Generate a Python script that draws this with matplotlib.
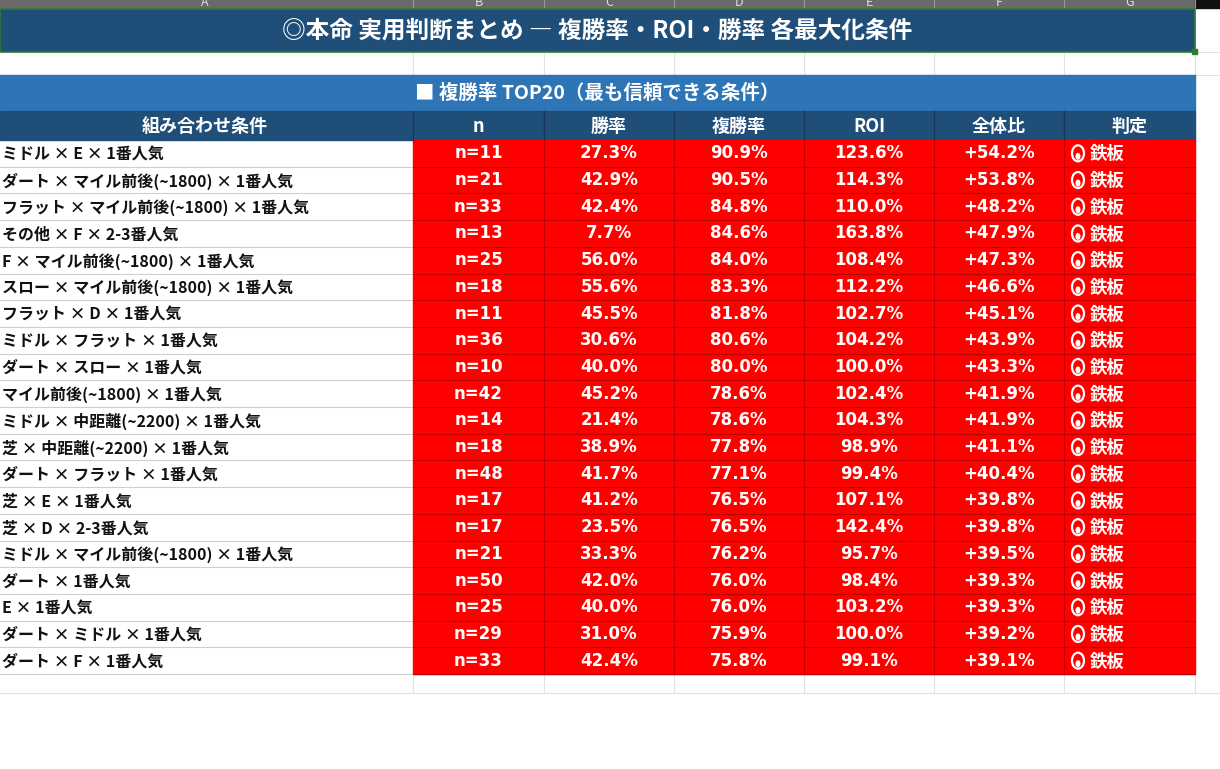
import matplotlib.pyplot as plt
from matplotlib.patches import Rectangle, Ellipse

plt.rcParams['font.family'] = ['Noto Sans CJK JP', 'DejaVu Sans']

title = "◎本命 実用判断まとめ ― 複勝率・ROI・勝率 各最大化条件"
section = "■ 複勝率 TOP20（最も信頼できる条件）"
headers = ["組み合わせ条件", "n", "勝率", "複勝率", "ROI", "全体比", "判定"]
col_letters = ["A", "B", "C", "D", "E", "F", "G"]

conditions = [
    "ミドル × E × 1番人気", "ダート × マイル前後(~1800) × 1番人気",
    "フラット × マイル前後(~1800) × 1番人気", "その他 × F × 2-3番人気",
    "F × マイル前後(~1800) × 1番人気", "スロー × マイル前後(~1800) × 1番人気",
    "フラット × D × 1番人気", "ミドル × フラット × 1番人気",
    "ダート × スロー × 1番人気", "マイル前後(~1800) × 1番人気",
    "ミドル × 中距離(~2200) × 1番人気", "芝 × 中距離(~2200) × 1番人気",
    "ダート × フラット × 1番人気", "芝 × E × 1番人気", "芝 × D × 2-3番人気",
    "ミドル × マイル前後(~1800) × 1番人気", "ダート × 1番人気", "E × 1番人気",
    "ダート × ミドル × 1番人気", "ダート × F × 1番人気",
]
n_vals = [11, 21, 33, 13, 25, 18, 11, 36, 10, 42, 14, 18, 48, 17, 17, 21, 50, 25, 29, 33]
win = [27.3, 42.9, 42.4, 7.7, 56.0, 55.6, 45.5, 30.6, 40.0, 45.2, 21.4, 38.9, 41.7, 41.2, 23.5, 33.3, 42.0, 40.0, 31.0, 42.4]
place = [90.9, 90.5, 84.8, 84.6, 84.0, 83.3, 81.8, 80.6, 80.0, 78.6, 78.6, 77.8, 77.1, 76.5, 76.5, 76.2, 76.0, 76.0, 75.9, 75.8]
roi = [123.6, 114.3, 110.0, 163.8, 108.4, 112.2, 102.7, 104.2, 100.0, 102.4, 104.3, 98.9, 99.4, 107.1, 142.4, 95.7, 98.4, 103.2, 100.0, 99.1]
ratio = [54.2, 53.8, 48.2, 47.9, 47.3, 46.6, 45.1, 43.9, 43.3, 41.9, 41.9, 41.1, 40.4, 39.8, 39.8, 39.5, 39.3, 39.3, 39.2, 39.1]
verdict = ["鉄板"] * 20

cols = [-80, 413, 544, 674, 804, 934, 1064, 1195]
W, H = 1220, 769
dark = "#1f4e79"
mid = "#2e75b6"
red = "#ff0000"

fig = plt.figure(figsize=(W / 100, H / 100), dpi=100)
ax = fig.add_axes([0, 0, 1, 1])
ax.set_xlim(0, W)
ax.set_ylim(H, 0)
ax.axis('off')

# faint grid
grid = "#e2e2e2"
for x in cols[1:]:
    ax.plot([x, x], [8, 693], color=grid, lw=0.8, zorder=0)
for y in [52, 75, 693]:
    ax.plot([0, 1220], [y, y], color=grid, lw=0.8, zorder=0)

# column letter strip (cut off at the top like the screenshot)
ax.add_patch(Rectangle((0, 0), 1195, 8, color="#6a6a6a", zorder=1))
ax.add_patch(Rectangle((1195, 0), 25, 8, color="#111111", zorder=1))
for i, L in enumerate(col_letters):
    cx = (cols[i] + cols[i + 1]) / 2 if i else 205
    ax.text(cx, 3, L, color="#dddddd", fontsize=9, ha="center", va="center", zorder=2, clip_on=True)
    ax.plot([cols[i + 1]] * 2, [0, 8], color="#999999", lw=0.8, zorder=2)

# title
ax.add_patch(Rectangle((0, 9), 1195, 43, facecolor=dark, edgecolor="#2e7d32", lw=1.2, zorder=2))
ax.add_patch(Rectangle((1192, 49), 5, 5, color="#2e7d32", zorder=3))
ax.text(597, 31, title, color="white", fontsize=17, fontweight="bold", ha="center", va="center", zorder=3)

# section
ax.add_patch(Rectangle((0, 75), 1195, 35, color=mid, zorder=2))
ax.text(597, 93, section, color="white", fontsize=14, fontweight="bold", ha="center", va="center", zorder=3)

# header
hy0, hy1 = 111, 140
ax.add_patch(Rectangle((0, hy0), 1195, hy1 - hy0, color=dark, zorder=2))
for i, h in enumerate(headers):
    cx = 205 if i == 0 else (cols[i] + cols[i + 1]) / 2
    ax.text(cx, (hy0 + hy1) / 2 + 1, h, color="white", fontsize=13, fontweight="bold",
            ha="center", va="center", zorder=3)
    if i:
        ax.plot([cols[i]] * 2, [hy0, hy1], color="#16385a", lw=1, zorder=3)

# rows
rh = (674 - 140) / 20
for r in range(20):
    y0 = 140 + r * rh
    yc = y0 + rh / 2
    ax.add_patch(Rectangle((cols[1], y0), cols[7] - cols[1], rh, color=red, zorder=2))
    ax.plot([0, cols[1]], [y0 + rh] * 2, color="#cfcfcf", lw=0.8, zorder=3)
    ax.plot([cols[1], cols[7]], [y0 + rh] * 2, color="#c00000", lw=0.8, zorder=3)
    ax.text(2, yc + 1, conditions[r], fontsize=11.5, fontweight="bold", ha="left", va="center",
            color="#111111", zorder=3)
    vals = [f"n={n_vals[r]}", f"{win[r]:.1f}%", f"{place[r]:.1f}%", f"{roi[r]:.1f}%", f"+{ratio[r]:.1f}%"]
    for i, v in enumerate(vals):
        cx = (cols[i + 1] + cols[i + 2]) / 2
        ax.text(cx, yc, v, fontsize=12, fontweight="bold", color="white", ha="center",
                va="center", zorder=3, family=["DejaVu Sans"])
    # flame-like icon
    ax.add_patch(Ellipse((1078, yc), 12, 16, facecolor="none", edgecolor="white", lw=1.6, zorder=3))
    ax.add_patch(Ellipse((1078, yc + 3), 5, 7, facecolor="white", edgecolor="none", zorder=3))
    ax.text(1090, yc + 1, verdict[r], fontsize=12.5, fontweight="bold", color="white",
            ha="left", va="center", zorder=3)
for x in cols[2:7]:
    ax.plot([x, x], [140, 674], color="#c00000", lw=0.8, zorder=3)

fig.savefig("out.png", dpi=100)
